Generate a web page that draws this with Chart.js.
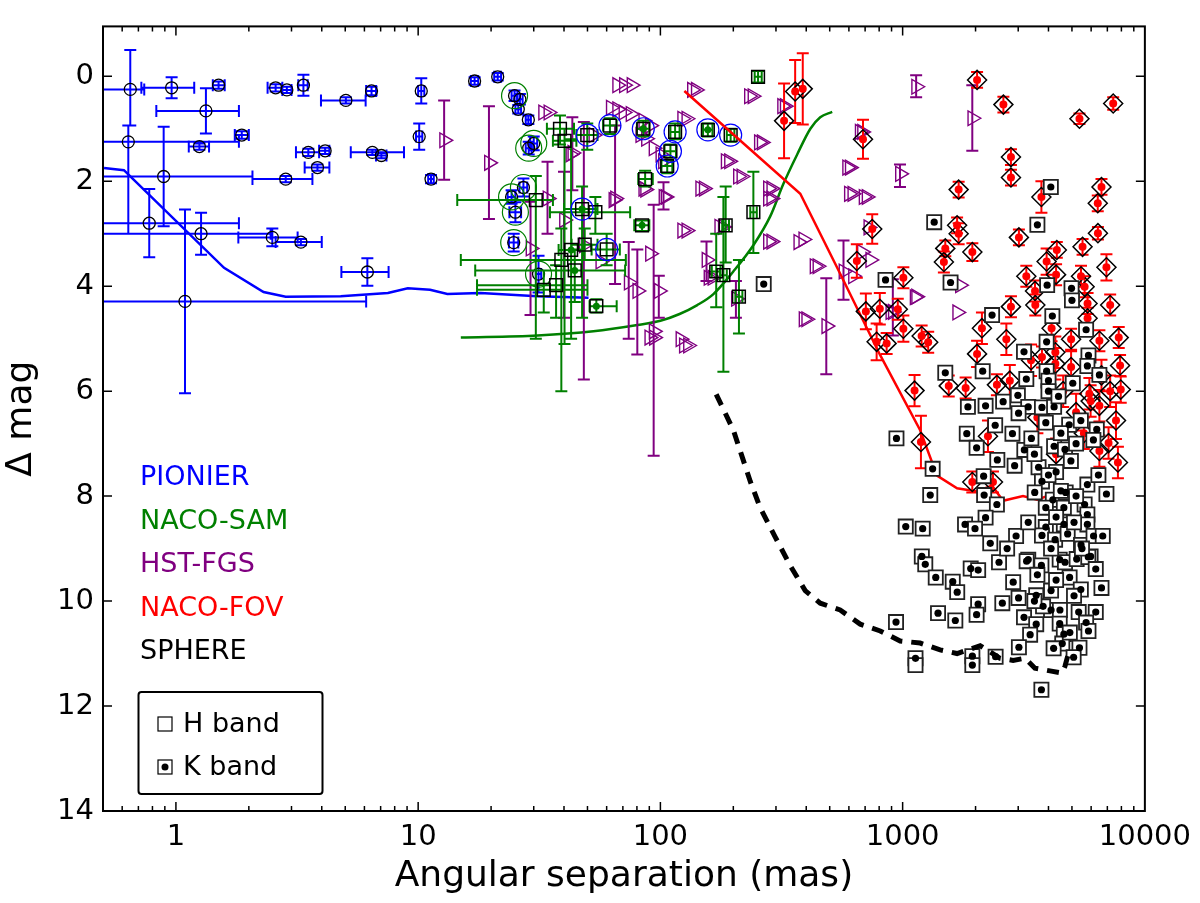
<!DOCTYPE html>
<html>
<head>
<meta charset="utf-8">
<script src="https://cdn.jsdelivr.net/npm/chart.js@4.4.1/dist/chart.umd.min.js"></script>
<style>
  html, body { margin: 0; padding: 0; background: #fff; }
  #wrap { width: 1200px; height: 903px; }
</style>
</head>
<body>
<div id="wrap"><canvas id="chart"></canvas></div>
<script>
// ================== DATA ==================
// separations in mas, contrasts in mag

// PIONIER detections (x errors as bounds, dmag errors as bounds)
const pionierSep   = [0.648, 0.96, 1.50, 2.58, 2.87, 3.36, 5.03, 6.42, 10.3, 1.33, 0.636, 1.87, 1.25, 0.89, 2.84, 3.52, 4.13, 3.84, 6.47, 7.05, 10.1, 11.3, 0.776, 1.27, 2.5, 3.28, 6.17, 1.09, 17.1, 21.3, 25.0, 26.3, 25.9, 28.5, 30.0, 28.6, 27.2, 24.3, 25.2, 24.8, 31.4];
const pionierDmag  = [0.25, 0.22, 0.17, 0.22, 0.26, 0.17, 0.46, 0.28, 0.28, 0.66, 1.25, 1.12, 1.34, 1.91, 1.96, 1.45, 1.42, 1.74, 1.45, 1.51, 1.15, 1.96, 2.80, 3.0, 3.07, 3.16, 3.73, 4.29, 0.09, 0.01, 0.37, 0.44, 0.63, 0.83, 1.28, 1.37, 2.12, 2.3, 2.59, 3.17, 3.77];
const pionierSepLo = [0.45, 0.72, 1.42, 2.39, 2.75, 3.2, 3.97, 6.1, 10.0, 0.83, 0.45, 1.75, 1.13, 0.45, 2.07, 3.13, 3.9, 3.4, 5.27, 6.7, 9.8, 11.0, 0.45, 0.45, 1.81, 2.58, 4.82, 0.45, 16.5, 20.6, 24.3, 25.6, 25.2, 27.8, 29.0, 27.8, 26.2, 23.4, 23.8, 23.7, 30.6];
const pionierSepHi = [0.74, 1.19, 1.59, 2.75, 3.0, 3.5, 6.07, 6.7, 10.6, 1.82, 1.82, 2.0, 1.37, 2.07, 3.66, 3.9, 4.3, 4.3, 8.74, 7.4, 10.4, 11.6, 1.82, 2.46, 3.18, 4.0, 7.55, 6.1, 17.7, 22.0, 25.7, 27.0, 26.6, 29.2, 31.0, 29.4, 28.2, 25.2, 26.6, 25.9, 32.2];
const pionierDmagLo = [-0.5, 0.02, 0.1, 0.15, 0.2, -0.03, 0.4, 0.2, 0.04, 0.23, 0.94, 1.05, 1.28, 0.96, 1.9, 1.38, 1.36, 1.68, 1.4, 1.46, 0.9, 1.88, 2.15, 2.6, 2.9, 3.1, 3.47, 2.54, 0.02, -0.06, 0.27, 0.34, 0.55, 0.75, 1.15, 1.25, 1.95, 2.17, 2.4, 3.0, 3.42];
const pionierDmagHi = [0.94, 0.42, 0.24, 0.29, 0.32, 0.37, 0.52, 0.36, 0.52, 1.09, 3.0, 1.19, 1.40, 2.86, 2.02, 1.52, 1.48, 1.8, 1.5, 1.56, 1.4, 2.04, 3.45, 3.4, 3.24, 3.22, 3.99, 6.04, 0.16, 0.08, 0.47, 0.54, 0.71, 0.91, 1.41, 1.49, 2.29, 2.43, 2.78, 3.34, 4.12];
const pionierAlsoSam = [0,0,0,0,0,0,0,0,0,0,0,0,0,0,0,0,0,0,0,0,0,0,0,0,0,0,0,0,0,0,1,0,0,0,1,1,1,1,1,1,1];

// NACO-SAM detections
const samSep    = [38.5, 40.2, 49.9, 61.9, 85, 115, 157, 195, 110, 106.7, 86.5, 30.6, 47.5, 53.9, 84, 42.8, 48.7, 60, 39, 44.3, 37.1, 33.0, 54.4, 253, 242, 186, 170, 182, 211];
const samDmag   = [1.00, 1.23, 1.12, 0.94, 1.0, 1.06, 1.02, 1.12, 1.43, 1.71, 1.96, 2.36, 2.53, 2.59, 2.84, 3.31, 3.21, 3.30, 3.5, 3.7, 3.98, 4.07, 4.38, 0.01, 2.59, 2.84, 3.72, 3.79, 4.2];
const samSepLo  = [34, 36, 45, 58, 80, 110, 150, 188, 104, 101, 81, 14.5, 40, 35, 78, 38, 43, 52, 15, 17.2, 17.5, 17.5, 51, 245, 235, 180, 163, 176, 204];
const samSepHi  = [44, 45, 55, 66, 90, 120, 164, 202, 116, 112, 93, 36, 55, 75, 90, 48, 55, 68, 72, 71.5, 50, 50, 66, 262, 250, 192, 177, 188, 218];
const samDmagLo = [0.75, 1.0, 0.9, 0.8, 0.85, 0.9, 0.9, 1.0, 1.3, 1.6, 1.8, 1.9, 2.1, 2.3, 2.75, 1.2, 2.9, 3.0, 2.9, 3.3, 3.6, 3.7, 4.25, -0.1, 1.82, 2.1, 3.0, 2.3, 3.5];
const samDmagHi = [1.3, 5.1, 1.4, 1.1, 1.15, 1.2, 1.15, 1.25, 1.55, 1.85, 2.1, 5.0, 4.6, 3.0, 2.95, 5.0, 3.5, 3.6, 6.0, 4.3, 4.6, 4.5, 4.5, 0.12, 3.37, 3.55, 4.4, 5.63, 4.9];
const samBand   = ['H','H','H','H','K','H','K','H','H','H','H','H','K','H','K','K','H','H','H','K','H','H','K','H','H','H','H','H','H'];
const samAlsoPionier = [0,0,1,1,1,1,1,1,1,1,0,0,1,0,0,0,0,1,0,0,0,0,0,0,0,0,0,0,0];

// HST-FGS detections (null = no error bar)
const hstSep    = [12.8, 19.6, 32.8, 34.5, 34.2, 29.1, 43.3, 40.0, 48.3, 65, 56.5, 74, 80.3, 98.5, 103, 90.6, 93.8, 66.3, 70.7, 76, 62.4, 66.3, 70.4, 75.3, 85, 90.6, 82.6, 87.2, 93.7, 100, 102.5, 86.5, 123, 128, 135, 140, 146, 151, 123, 128, 155, 90, 94, 121, 232, 240, 255, 262, 186, 192, 209, 216, 278, 287, 278, 287, 175, 181, 278, 287, 371, 389, 158, 164, 205, 390, 400, 484, 318, 326, 665, 680, 590, 605, 975, 600, 620, 690, 710, 722, 679, 735, 570, 624, 911, 890, 125, 130, 85, 105, 64, 42.5, 52.9, 1137, 1939, 1137, 1724, 433, 445, 1121, 1680];
const hstDmag   = [1.22, 1.65, 0.69, 0.69, 2.33, 3.28, 1.46, 2.74, 3.22, 2.33, 3.53, 3.93, 4.09, 4.09, 2.3, 3.38, 4.86, 0.17, 0.17, 0.17, 0.6, 0.63, 0.69, 0.72, 0.85, 0.94, 1.12, 1.19, 1.37, 1.49, 1.62, 2.16, 0.81, 0.81, 0.26, 0.26, 2.14, 2.14, 2.94, 2.94, 3.5, 4.98, 4.98, 5.01, 0.38, 0.38, 1.26, 1.26, 1.62, 1.62, 1.91, 1.91, 2.14, 2.14, 2.33, 2.33, 2.87, 2.87, 3.15, 3.15, 3.16, 3.11, 3.84, 3.84, 4.24, 4.63, 4.63, 4.76, 0.57, 0.57, 1.06, 1.06, 1.74, 1.74, 1.86, 2.24, 2.24, 2.3, 2.3, 2.88, 3.35, 3.5, 3.72, 3.81, 4.49, 4.49, 5.13, 5.13, 2.14, 2.3, 2.36, 1.49, 1.12, 0.2, 0.8, 4.2, 3.98, 3.62, 3.62, 4.21, 4.5];
const hstDmagLo = [0.46, 0.57, null, null, 1.63, 2.39, 0.78, 1.82, 0.87, 0.94, null, 3.16, 3.3, 3.8, 2.02, null, 2.45, null, null, null, null, null, null, null, null, null, null, null, null, null, null, null, null, null, null, null, null, null, null, null, 3.15, null, null, null, null, null, null, null, null, null, null, null, null, null, null, null, null, null, null, null, null, null, null, null, 3.9, null, null, 3.85, null, null, null, null, null, null, 1.68, null, null, null, null, null, null, null, 3.13, null, 3.87, null, null, null, null, null, null, null, null, -0.02, 0.17, null, null, null, null, null, null];
const hstDmagHi = [1.97, 2.72, null, null, 3.0, 4.55, 2.17, 4.6, 5.78, 3.96, null, 5.0, 5.3, 4.6, 2.54, null, 7.23, null, null, null, null, null, null, null, null, null, null, null, null, null, null, null, null, null, null, null, null, null, null, null, 3.9, null, null, null, null, null, null, null, null, null, null, null, null, null, null, null, null, null, null, null, null, null, null, null, 4.6, null, null, 5.68, null, null, null, null, null, null, 2.11, null, null, null, null, null, null, null, 4.26, null, 4.94, null, null, null, null, null, null, null, null, 0.4, 1.42, null, null, null, null, null, null];

// NACO-FOV detections (symmetric dmag error)
const fovSep  = [387, 360, 324, 686, 749, 647, 705, 805, 781, 859, 1007, 1007, 955, 2029, 2606, 5370, 7400, 2800, 2800, 1703, 3740, 6620, 6390, 1678, 1703, 3020, 6400, 1500, 1480, 1940, 4330, 3930, 5530, 3240, 4300, 5450, 6940, 5640, 3520, 1198, 1275, 2029, 2125, 2680, 2800, 3530, 4120, 4960, 5800, 7190, 5800, 6490, 7800, 7900, 7950, 6490, 7600, 7080, 7740, 6490, 5970, 1120, 1550, 1820, 2450, 2770, 1190, 2250, 1939, 2360, 4960, 3760, 4270, 4270, 3390, 7190, 5900, 6620, 5200, 4600, 5600, 4300, 3600];
const fovDmag = [0.24, 0.29, 0.85, 1.2, 2.91, 3.52, 4.48, 4.43, 5.06, 5.09, 4.81, 3.84, 4.44, 0.07, 0.54, 0.81, 0.52, 1.54, 1.93, 2.16, 2.3, 2.11, 2.42, 2.84, 3.0, 3.07, 2.99, 3.28, 3.54, 3.35, 3.31, 3.53, 3.25, 3.81, 3.78, 3.81, 3.64, 4.01, 4.09, 4.95, 5.07, 5.29, 4.8, 5.01, 4.39, 4.36, 4.8, 5.01, 4.33, 4.36, 4.61, 5.04, 4.98, 5.51, 5.97, 6.28, 6.56, 6.99, 7.36, 7.14, 6.19, 5.99, 5.9, 5.94, 5.88, 5.8, 6.97, 6.86, 7.73, 7.73, 5.54, 5.35, 5.26, 5.48, 5.41, 6.0, 6.05, 5.7, 6.4, 6.0, 6.8, 7.2, 6.5];
const fovErr  = [0.68, 0.6, 0.71, 0.37, 0.28, 0.32, 0.34, 0.3, 0.35, 0.2, 0.25, 0.2, 0.2, 0.15, 0.15, 0.1, 0.12, 0.15, 0.15, 0.15, 0.3, 0.15, 0.15, 0.15, 0.2, 0.15, 0.12, 0.15, 0.2, 0.17, 0.15, 0.25, 0.15, 0.2, 0.2, 0.2, 0.25, 0.2, 0.2, 0.2, 0.2, 0.25, 0.3, 0.3, 0.2, 0.2, 0.25, 0.2, 0.2, 0.2, 0.2, 0.2, 0.2, 0.2, 0.25, 0.3, 0.35, 0.3, 0.3, 0.3, 0.3, 0.3, 0.2, 0.2, 0.2, 0.3, 0.5, 0.3, 0.2, 0.2, 0.3, 0.2, 0.3, 0.3, 0.3, 0.3, 0.3, 0.3, 0.35, 0.3, 0.3, 0.3, 0.3];

// SPHERE detections
const sphereKSep  = [267, 4090, 3600, 1350, 850, 1577, 3950, 4980, 5000, 2340, 4150, 5720, 3930, 3170, 5850, 5790, 1500, 2140, 3240, 3930, 4000, 4000, 5040, 6490, 1860, 2200, 2600, 2990, 3300, 3760, 4220, 3010, 2410, 2840, 1840, 2020, 2460, 2900, 3180, 3640, 4220, 4680, 4870, 5440, 6330, 6130, 4300, 4950, 5790, 6430, 3760, 3510, 4170, 4710, 6940, 5640, 1330, 2160, 2170, 2450, 1300, 943, 2200, 1810, 1990, 1030, 1210, 3900, 4630, 5790, 3900, 4630, 5790, 2940, 3760, 4260, 4800, 5450, 6140, 6700, 3300, 4450, 5970, 1200, 2500, 1240, 1370, 1610, 1680, 1910, 2050, 2860, 3250, 3740, 4680, 4890, 5230, 5840, 6270, 5440, 6620, 4100, 3560, 3010, 2580, 2050, 2020, 1400, 1650, 939, 3170, 3560, 4100, 4460, 4450, 5330, 6270, 5720, 5850, 4630, 3360, 4560, 5370, 5080, 3020, 1940, 1940, 2420, 1130, 3740, 3400, 4500, 5200, 3900, 4400, 3500, 4000, 4500, 5200, 3300, 4300, 5100, 5500, 4100, 3600, 4300, 5100, 3800, 4900, 4200, 3500, 2700, 2300];
const sphereKDmag = [3.96, 2.11, 2.83, 2.78, 3.88, 3.93, 3.98, 4.04, 4.27, 4.55, 4.57, 4.83, 5.06, 5.25, 5.32, 5.52, 5.65, 5.62, 5.77, 5.62, 5.8, 6.0, 5.85, 5.69, 6.3, 6.28, 6.2, 6.08, 6.3, 6.31, 6.3, 6.42, 6.65, 6.81, 6.81, 7.08, 7.31, 7.42, 7.12, 7.45, 7.05, 7.11, 6.64, 6.56, 6.73, 6.93, 7.54, 7.33, 7.78, 7.6, 7.72, 7.93, 8.07, 7.93, 7.96, 8.16, 7.48, 7.62, 7.98, 8.16, 7.98, 6.9, 8.41, 8.54, 8.62, 8.58, 8.62, 8.22, 8.22, 8.35, 8.59, 8.54, 8.54, 8.76, 8.75, 8.83, 8.72, 8.93, 8.76, 8.76, 9.21, 9.21, 9.15, 9.15, 9.26, 9.3, 9.55, 9.63, 9.83, 9.38, 9.41, 9.64, 9.24, 9.32, 9.26, 9.55, 9.2, 9.16, 9.39, 9.78, 9.75, 9.8, 9.89, 9.94, 10.04, 10.06, 10.26, 10.23, 10.37, 10.4, 10.31, 10.44, 10.17, 10.17, 10.43, 10.21, 10.21, 10.41, 10.57, 10.63, 10.64, 10.81, 10.89, 11.07, 10.88, 11.05, 11.22, 11.06, 11.09, 11.69, 6.9, 6.8, 7.0, 6.6, 6.1, 7.2, 7.6, 7.9, 8.0, 8.5, 8.4, 8.5, 9.0, 9.0, 9.5, 9.6, 9.9, 10.1, 10.6, 10.9, 10.0, 9.0, 8.9];
const sphereHSep  = [1130];
const sphereHDmag = [11.22];

// detection limits
const pionierLimSep  = [0.505, 0.61, 1.58, 2.3, 2.84, 4.79, 7.5, 9.06, 11.2, 13.2, 18.1, 31, 50.5];
const pionierLimDmag = [1.75, 1.79, 3.65, 4.11, 4.2, 4.19, 4.13, 4.04, 4.07, 4.15, 4.13, 4.19, 4.22];
const samLimSep  = [15.0, 31.1, 52.9, 80.4, 100, 120, 142, 165.5, 200, 242, 284, 322, 367, 416, 457, 512];
const samLimDmag = [4.98, 4.94, 4.86, 4.74, 4.66, 4.53, 4.36, 4.15, 3.72, 3.22, 2.67, 2.05, 1.49, 1.0, 0.78, 0.68];
const fovLimSep  = [125.6, 378, 537, 807, 1180, 1387, 1678, 2029, 2339, 2596, 3140, 3590, 3945];
const fovLimDmag = [0.28, 2.24, 3.65, 5.31, 6.74, 7.61, 7.85, 7.91, 7.8, 8.09, 8.0, 8.07, 8.0];
const sphereLimSep  = [170, 200, 235, 258, 298, 344, 396, 457, 552, 668, 808, 977, 1181, 1428, 1678, 2089, 2524, 2858, 3200, 3517, 4055, 4550, 4680, 4900];
const sphereLimDmag = [6.06, 6.74, 7.72, 8.22, 8.78, 9.33, 9.8, 10.04, 10.17, 10.44, 10.57, 10.76, 10.8, 10.93, 11.0, 10.85, 11.09, 11.13, 11.09, 11.28, 11.33, 11.37, 11.24, 10.9];

// axis ticks
const xMajorTicks = [1, 10, 100, 1000, 10000];
const yMajorTicks = [0, 2, 4, 6, 8, 10, 12, 14];

// instrument labels
const instruments = ['PIONIER', 'NACO-SAM', 'HST-FGS', 'NACO-FOV', 'SPHERE'];
const instrumentColors = ['#0000ff', '#008000', '#800080', '#ff0000', '#000000'];

// ================== CHART ==================
const FONT = "'DejaVu Sans', sans-serif";
const pts = (xs, ys) => xs.map((x, i) => ({ x: x, y: ys[i] }));
const pick = (arr, flags, want) => arr.filter((v, i) => flags[i] === want);

// error bars drawn through the scales
const errorBars = {
  id: "errorBars",
  beforeDatasetDraw(chart, args) {
    const ds = chart.data.datasets[args.index];
    if (!ds.err) return;
    const e = ds.err, xs = chart.scales.x, ys = chart.scales.y, c = chart.ctx, a = chart.chartArea;
    const cap = e.cap || 6;
    c.save();
    c.beginPath();
    c.rect(a.left, a.top, a.right - a.left, a.bottom - a.top);
    c.clip();
    c.strokeStyle = e.color;
    c.lineWidth = e.width || 2;
    c.beginPath();
    ds.data.forEach((p, i) => {
      const px = xs.getPixelForValue(p.x), py = ys.getPixelForValue(p.y);
      if (e.xlo && e.xlo[i] != null) {
        const l = xs.getPixelForValue(e.xlo[i]), r = xs.getPixelForValue(e.xhi[i]);
        c.moveTo(l, py); c.lineTo(r, py);
        c.moveTo(l, py - cap); c.lineTo(l, py + cap);
        c.moveTo(r, py - cap); c.lineTo(r, py + cap);
      }
      if (e.ylo && e.ylo[i] != null) {
        const t = ys.getPixelForValue(e.ylo[i]), b = ys.getPixelForValue(e.yhi[i]);
        c.moveTo(px, t); c.lineTo(px, b);
        c.moveTo(px - cap, t); c.lineTo(px + cap, t);
        c.moveTo(px - cap, b); c.lineTo(px + cap, b);
      }
    });
    c.stroke();
    c.restore();
  }
};

// frame, inward ticks and the text legend
const decorations = {
  id: "decorations",
  afterDraw(chart) {
    const c = chart.ctx, a = chart.chartArea, xs = chart.scales.x, ys = chart.scales.y;
    c.save();
    c.strokeStyle = "#000";
    c.lineWidth = 1.5;
    c.beginPath();
    for (let d = 0.1; d < 20000; d *= 10) {
      for (let m = 1; m < 10; m++) {
        const v = d * m;
        if (v <= 0.5 || v >= 10000) continue;
        const px = xs.getPixelForValue(v);
        const len = m === 1 ? 9 : 5;
        c.moveTo(px, a.bottom); c.lineTo(px, a.bottom - len);
        c.moveTo(px, a.top); c.lineTo(px, a.top + len);
      }
    }
    yMajorTicks.forEach((v) => {
      const py = ys.getPixelForValue(v);
      c.moveTo(a.left, py); c.lineTo(a.left + 9, py);
      c.moveTo(a.right, py); c.lineTo(a.right - 9, py);
    });
    c.stroke();
    c.lineWidth = 2;
    c.strokeRect(a.left, a.top, a.right - a.left, a.bottom - a.top);

    // instrument names
    c.font = "27px " + FONT;
    c.textBaseline = "middle";
    c.textAlign = "left";
    instruments.forEach((name, i) => {
      c.fillStyle = instrumentColors[i];
      c.fillText(name, 140, 478 + i * 43.5);
    });

    // band legend box
    c.lineWidth = 2;
    c.strokeStyle = "#000";
    c.beginPath();
    c.roundRect(138.5, 692, 184, 102, 3);
    c.stroke();
    c.fillStyle = "#000";
    c.fillText("H band", 183, 725);
    c.fillText("K band", 183, 768);
    c.lineWidth = 1.2;
    c.strokeRect(158, 717, 14, 14);
    c.strokeRect(158, 760, 14, 14);
    c.beginPath();
    c.arc(165, 767, 3.5, 0, Math.PI * 2);
    c.fill();
    c.restore();
  }
};

const samK = samBand.map((b) => (b === "K" ? 1 : 0));

new Chart(document.getElementById("chart"), {
  type: "scatter",
  data: {
    datasets: [
      { data: pts(pionierLimSep, pionierLimDmag), showLine: true, borderColor: "#0000ff", borderWidth: 2.5, pointRadius: 0, order: 20 },
      { data: pts(samLimSep, samLimDmag), showLine: true, borderColor: "#008000", borderWidth: 2.5, pointRadius: 0, tension: 0.4, cubicInterpolationMode: "monotone", order: 19 },
      {
        data: pts(hstSep, hstDmag), pointStyle: "triangle", pointRotation: 90, pointRadius: 8.5,
        borderColor: "#800080", backgroundColor: "rgba(0,0,0,0)", borderWidth: 1.4, order: 15,
        err: { color: "#800080", ylo: hstDmagLo, yhi: hstDmagHi }
      },
      {
        data: pts(pionierSep, pionierDmag), pointStyle: "circle", pointRadius: 6,
        borderColor: "#000", backgroundColor: "rgba(0,0,0,0)", borderWidth: 1.3, order: 14,
        err: { color: "#0000ff", xlo: pionierSepLo, xhi: pionierSepHi, ylo: pionierDmagLo, yhi: pionierDmagHi }
      },
      {
        data: pts(pick(pionierSep, pionierAlsoSam, 1), pick(pionierDmag, pionierAlsoSam, 1)), pointStyle: "circle", pointRadius: 13,
        borderColor: "#008000", backgroundColor: "rgba(0,0,0,0)", borderWidth: 1.2, order: 13
      },
      {
        data: pts(samSep, samDmag), pointStyle: "rect", pointRadius: 9,
        borderColor: "#000", backgroundColor: "rgba(0,0,0,0)", borderWidth: 1.5, order: 12,
        err: { color: "#008000", xlo: samSepLo, xhi: samSepHi, ylo: samDmagLo, yhi: samDmagHi }
      },
      {
        data: pts(pick(samSep, samK, 1), pick(samDmag, samK, 1)), pointStyle: "circle", pointRadius: 3.5,
        borderWidth: 0, backgroundColor: "#008000", order: 11
      },
      {
        data: pts(pick(samSep, samAlsoPionier, 1), pick(samDmag, samAlsoPionier, 1)), pointStyle: "circle", pointRadius: 11,
        borderColor: "#0000ff", backgroundColor: "rgba(0,0,0,0)", borderWidth: 1.2, order: 10
      },
      { data: pts(fovLimSep, fovLimDmag), showLine: true, borderColor: "#ff0000", borderWidth: 2.5, pointRadius: 0, order: 9 },
      {
        data: pts(fovSep, fovDmag), pointStyle: "rectRot", pointRadius: 9.5,
        borderColor: "#000", backgroundColor: "rgba(0,0,0,0)", borderWidth: 1.5, order: 8,
        err: { color: "#ff0000", ylo: fovDmag.map((v, i) => v - fovErr[i]), yhi: fovDmag.map((v, i) => v + fovErr[i]) }
      },
      {
        data: pts(fovSep, fovDmag), pointStyle: "circle", pointRadius: 4,
        borderWidth: 0, backgroundColor: "#ff0000", order: 7
      },
      {
        data: pts(sphereKSep.concat(sphereHSep), sphereKDmag.concat(sphereHDmag)), pointStyle: "rect", pointRadius: 10,
        borderColor: "#222", backgroundColor: "#fff", borderWidth: 1.8, order: 6
      },
      {
        data: pts(sphereKSep, sphereKDmag), pointStyle: "circle", pointRadius: 3.6,
        borderWidth: 0, backgroundColor: "#000", order: 5
      },
      {
        data: pts(sphereLimSep, sphereLimDmag), showLine: true, borderColor: "#000", borderWidth: 5,
        borderDash: [12, 9], pointRadius: 0, order: 4
      }
    ]
  },
  options: {
    responsive: true,
    maintainAspectRatio: false,
    animation: false,
    events: [],
    layout: { padding: { top: 3, right: 54, left: 0, bottom: 0 } },
    plugins: { legend: { display: false }, tooltip: { enabled: false } },
    scales: {
      x: {
        type: "logarithmic",
        min: 0.5,
        max: 10000,
        grid: { display: false, drawTicks: false },
        border: { display: false },
        afterBuildTicks: (s) => { s.ticks = xMajorTicks.map((v) => ({ value: v })); },
        afterFit: (s) => { s.height = 92; },
        ticks: {
          autoSkip: false, maxRotation: 0, padding: 9, color: "#000",
          font: { family: FONT, size: 29 },
          callback: (v) => String(v)
        },
        title: {
          display: true, text: "Angular separation (mas)", color: "#000",
          font: { family: FONT, size: 36 }, padding: { top: 0, bottom: 5 }
        }
      },
      y: {
        type: "linear",
        reverse: true,
        min: -0.95,
        max: 14,
        grid: { display: false, drawTicks: false },
        border: { display: false },
        afterBuildTicks: (s) => { s.ticks = yMajorTicks.map((v) => ({ value: v })); },
        afterFit: (s) => { s.width = 103; },
        ticks: { padding: 9, color: "#000", font: { family: FONT, size: 29 } },
        title: {
          display: true, text: "Δ mag", color: "#000",
          font: { family: FONT, size: 36 }, padding: { top: 0, bottom: 0 }
        }
      }
    }
  },
  plugins: [errorBars, decorations]
});
</script>
</body>
</html>
